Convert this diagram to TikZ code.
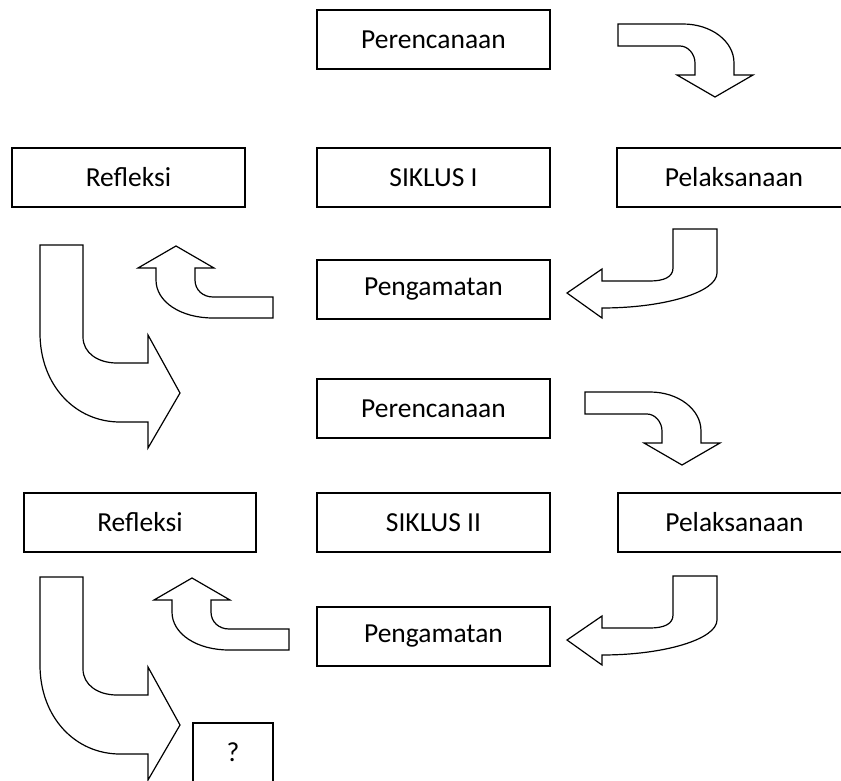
\documentclass[tikz,border=0pt]{standalone}
\usepackage{fontspec}
\setmainfont{Carlito}
\usepackage{tikz}

\begin{document}
\begin{tikzpicture}
[x=1pt,y=-1pt,
 boxDecorate/.style={shape=rectangle,draw,line width=1.4pt,inner sep=0pt,%
   minimum height=59pt,font=\fontsize{27.5}{31}\selectfont},%
 arrowDecorate/.style={draw,line width=1.2pt,fill=white,line join=miter}]
\useasboundingbox (0,0) rectangle (841,781);
\clip (0,0) rectangle (841,781);
%% boxes
\foreach \nodename/\x/\y/\w/\txt in {plan1/433.5/39.5/233pt/Perencanaan,
  ref1/128.5/177.5/233pt/Refleksi, sik1/433.5/177.5/233pt/SIKLUS I,
  pel1/734/177.5/234pt/Pelaksanaan, obs1/433.5/289.5/233pt/Pengamatan,
  plan2/433.5/408.5/233pt/Perencanaan, ref2/140/522.5/232pt/Refleksi,
  sik2/433.5/522.5/233pt/SIKLUS II, pel2/734.5/522.5/233pt/Pelaksanaan,
  obs2/433.5/636.5/233pt/Pengamatan, next/233/752.5/80pt/?} {
  \node (\nodename) at (\x,\y) [boxDecorate,minimum width=\w] {\txt};
}
%% bent arrow down (Perencanaan to Pelaksanaan)
\foreach \dx/\dy in {0/0, -33/368} {
  \draw[arrowDecorate,shift={(\dx,\dy)}] (618,24) -- (683,24)
    .. controls (711,24) and (734,41) .. (734,63) -- (734,75) -- (753,75)
    -- (715,97) -- (677,75) -- (695,75) -- (695,63)
    .. controls (695,54) and (688,46) .. (680,46) -- (618,46) -- cycle;
}
%% bent arrow left (Pelaksanaan to Pengamatan)
\foreach \dx/\dy in {0/0, 0/347} {
  \draw[arrowDecorate,shift={(\dx,\dy)}] (673,229) -- (717,229) -- (717,273)
    .. controls (717,292) and (665,308) .. (602,308) -- (602,318)
    -- (567,293) -- (602,269) -- (602,281) -- (650,281)
    .. controls (664,281) and (673,277) .. (673,268) -- cycle;
}
%% bent arrow up (Pengamatan to Refleksi)
\foreach \dx/\dy in {0/0, 16/332} {
  \draw[arrowDecorate,shift={(\dx,\dy)}] (176,246) -- (214,268) -- (195,268)
    -- (195,280) .. controls (195,290) and (203,297) .. (213,297)
    -- (273,297) -- (273,318) -- (213,318)
    .. controls (181,318) and (156,302) .. (156,280) -- (156,268)
    -- (138,268) -- cycle;
}
%% big bent arrow (Refleksi to next cycle)
\foreach \dx/\dy in {0/0, 0/332} {
  \draw[arrowDecorate,shift={(\dx,\dy)}] (40,245) -- (83,245) -- (83,337)
    .. controls (83,353) and (98,363) .. (117,363) -- (148,363)
    -- (148,335) -- (180,393) -- (148,448) -- (148,422) -- (120,422)
    .. controls (75,422) and (40,385) .. (40,333) -- cycle;
}
\end{tikzpicture}
\end{document}
